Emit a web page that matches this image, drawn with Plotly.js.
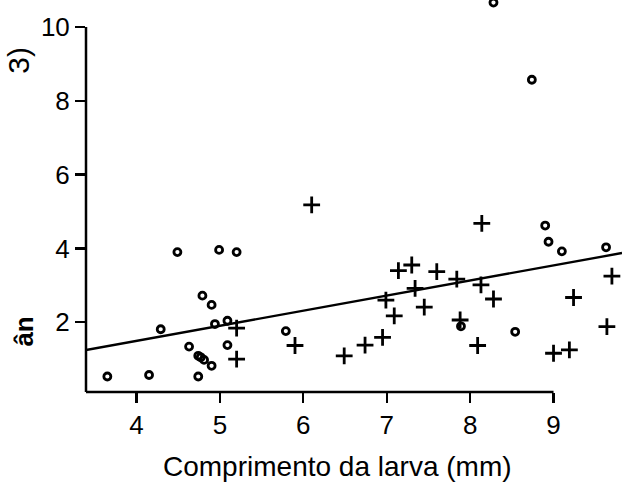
<!DOCTYPE html>
<html>
<head>
<meta charset="utf-8">
<script src="https://cdn.plot.ly/plotly-3.0.1.min.js"></script>
<style>html,body{margin:0;padding:0;background:#fff}#chart{width:622px;height:487px}</style>
</head>
<body>
<div id="chart"></div>
<script>
// Open circles
var circleX = [3.65, 4.15, 4.29, 4.49, 4.99, 5.20, 4.79, 4.90, 4.94, 5.09, 4.63, 4.74, 4.77, 4.81, 4.90, 4.74, 5.09, 5.79, 7.89, 8.28, 8.74, 8.90, 8.94, 9.10, 9.63, 8.54];
var circleY = [0.53, 0.57, 1.81, 3.90, 3.96, 3.90, 2.72, 2.47, 1.95, 2.04, 1.34, 1.09, 1.05, 0.98, 0.82, 0.53, 1.38, 1.76, 1.89, 10.66, 8.57, 4.62, 4.18, 3.92, 4.03, 1.74];
// Crosses
var crossX = [5.20, 5.20, 5.90, 6.10, 6.49, 6.74, 6.95, 7.09, 6.99, 7.14, 7.30, 7.34, 7.45, 7.60, 7.84, 7.88, 8.13, 8.09, 8.14, 8.28, 9.24, 9.70, 9.64, 9.00, 9.19];
var crossY = [1.84, 1.00, 1.37, 5.18, 1.09, 1.38, 1.59, 2.17, 2.60, 3.40, 3.55, 2.92, 2.41, 3.37, 3.17, 2.06, 3.01, 1.37, 4.68, 2.63, 2.67, 3.25, 1.88, 1.16, 1.25];
// Regression line
var fitIntercept = -0.141;
var fitSlope = 0.409;
var xTicks = [4, 5, 6, 7, 8, 9];
var yTicks = [2, 4, 6, 8, 10];
var xTitle = "Comprimento da larva (mm)";

var xRange = [3.394, 9.821];
var yRange = [0.11, 10.73];
var fitX = [xRange[0], xRange[1]];
var fitY = fitX.map(function (x) { return fitIntercept + fitSlope * x; });

var font = "Liberation Sans, Arial, sans-serif";

var traces = [
  {x: fitX, y: fitY, mode: "lines", line: {color: "#000", width: 2.3}, hoverinfo: "skip", cliponaxis: false},
  {x: circleX, y: circleY, mode: "markers", cliponaxis: false,
   marker: {symbol: "circle-open", size: 7, color: "#000", line: {width: 2.8, color: "#000"}}},
  {x: crossX, y: crossY, mode: "markers", cliponaxis: false,
   marker: {symbol: "cross-thin-open", size: 12, color: "#000", line: {width: 2.8, color: "#000"}}}
];

var layout = {
  width: 622, height: 487,
  margin: {l: 86, r: 0, t: 0, b: 95, pad: 0},
  paper_bgcolor: "#fff", plot_bgcolor: "#fff",
  showlegend: false,
  font: {family: font, color: "#000", size: 26},
  xaxis: {
    range: xRange, showgrid: false, zeroline: false, showline: false,
    tickmode: "array", tickvals: xTicks, ticktext: xTicks.map(String),
    ticks: "outside", ticklen: 10, tickwidth: 2.3, tickcolor: "#000",
    tickfont: {family: font, size: 26, color: "#000"}
  },
  yaxis: {
    range: yRange, showgrid: false, zeroline: false, showline: false,
    tickmode: "array", tickvals: yTicks, ticktext: yTicks.map(String),
    ticks: "outside", ticklen: 10, tickwidth: 2.3, tickcolor: "#000",
    tickfont: {family: font, size: 26, color: "#000"}
  },
  shapes: [
    {type: "line", xref: "x", yref: "paper", x0: xRange[0], x1: 9, y0: 0, y1: 0, line: {color: "#000", width: 2.5}},
    {type: "line", xref: "paper", yref: "y", x0: 0, x1: 0, y0: yRange[0], y1: 10, line: {color: "#000", width: 2.5}}
  ],
  annotations: [
    {xref: "paper", yref: "paper", x: 0.470, y: -0.191, xanchor: "center", yanchor: "middle",
     text: xTitle, showarrow: false, font: {family: font, size: 28, color: "#000"}},
    {xref: "paper", yref: "paper", x: -0.125, y: 0.845, xanchor: "center", yanchor: "middle",
     text: "3)", textangle: -90, showarrow: false, font: {family: font, size: 30, color: "#000"}},
    {xref: "paper", yref: "paper", x: -0.115, y: 0.155, xanchor: "center", yanchor: "middle",
     text: "<b>ân</b>", textangle: -90, showarrow: false, font: {family: font, size: 26, color: "#000"}}
  ]
};

Plotly.newPlot("chart", traces, layout, {staticPlot: true, displayModeBar: false});
</script>
</body>
</html>
